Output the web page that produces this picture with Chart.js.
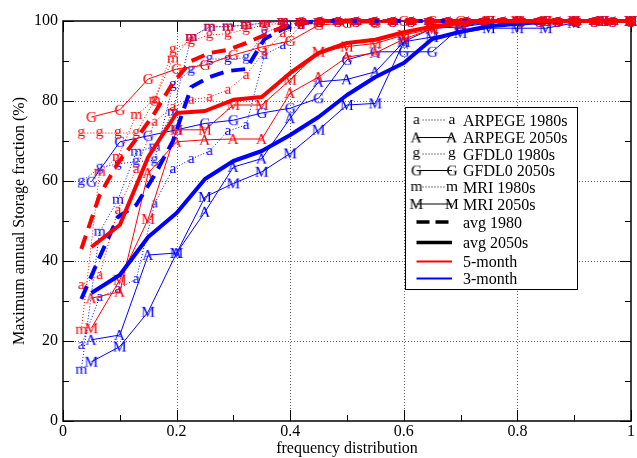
<!DOCTYPE html>
<html>
<head>
<meta charset="utf-8">
<script src="https://cdn.jsdelivr.net/npm/chart.js@4.4.1/dist/chart.umd.min.js"></script>
<style>
html,body{margin:0;padding:0;background:#fff;overflow:hidden}
canvas{display:block}
</style>
</head>
<body>
<canvas id="chart" width="637" height="458"></canvas>
<script>
// ---------- DATA ----------
// frequency positions: 1980s runs (31 years) and 2050s runs (20 years)
const xPast = [0.0323, 0.0645, 0.0968, 0.129, 0.1613, 0.1935, 0.2258, 0.2581, 0.2903, 0.3226, 0.3548, 0.3871, 0.4194, 0.4516, 0.4839, 0.5161, 0.5484, 0.5806, 0.6129, 0.6452, 0.6774, 0.7097, 0.7419, 0.7742, 0.8065, 0.8387, 0.871, 0.9032, 0.9355, 0.9677, 1];
const xFuture = [0.05, 0.1, 0.15, 0.2, 0.25, 0.3, 0.35, 0.4, 0.45, 0.5, 0.55, 0.6, 0.65, 0.7, 0.75, 0.8, 0.85, 0.9, 0.95, 1];

// 5-month (red)
const arpege1980_5 = [34, 36.5, 52.8, 63, 74.8, 78.5, 80.3, 81, 82.8, 86.5, 92.5, 97, 99, 99.5, 100, 100, 100, 100, 100, 100, 100, 100, 100, 100, 100, 100, 100, 100, 100, 100, 100];
const gfdl1980_5   = [72, 72, 72, 72, 80.3, 92.8, 95, 96.5, 96.8, 98, 99, 99.5, 100, 100, 100, 100, 100, 100, 100, 100, 100, 100, 100, 100, 100, 100, 100, 100, 100, 100, 100];
const mri1980_5    = [22.8, 62.3, 66, 76.5, 80.3, 90.6, 96, 98.6, 98.6, 99, 99.5, 100, 100, 100, 100, 100, 100, 100, 100, 100, 100, 100, 100, 100, 100, 100, 100, 100, 100, 100, 100];
const avg1980_5    = [43, 56.5, 64.5, 70.5, 77, 84.5, 90, 92, 92.8, 94.5, 96.5, 98.5, 99.5, 100, 100, 100, 100, 100, 100, 100, 100, 100, 100, 100, 100, 100, 100, 100, 100, 100, 100];
const arpege2050_5 = [30.7, 32.3, 62, 69.8, 70.3, 70.5, 70.5, 82, 86, 91, 92, 95.5, 98, 99.5, 100, 100, 100, 100, 100, 100];
const gfdl2050_5   = [76, 77.8, 85.5, 88, 89, 91.5, 93.5, 95, 99, 99.5, 99.5, 100, 100, 100, 100, 100, 100, 100, 100, 100];
const mri2050_5    = [23.2, 35.3, 50.5, 72.8, 72.8, 79, 79, 85.3, 92.3, 93.6, 94.4, 96.5, 98, 99, 100, 100, 100, 100, 100, 100];
const avg2050_5    = [43.5, 49, 66, 77, 77.5, 80.3, 81, 87, 92, 94.5, 95.3, 97.2, 98.6, 99.5, 100, 100, 100, 100, 100, 100];

// 3-month (blue)
const arpege1980_3 = [19, 31, 33, 35.5, 54.4, 63, 65.5, 67.5, 72.5, 74, 91.5, 94, 99, 99.5, 100, 100, 100, 100, 100, 100, 100, 100, 100, 100, 100, 100, 100, 100, 100, 100, 100];
const gfdl1980_3   = [59.8, 63.3, 64.3, 64.8, 65.2, 84, 87.8, 90.5, 90.5, 90.8, 97, 99, 99.5, 100, 100, 100, 100, 100, 100, 100, 100, 100, 100, 100, 100, 100, 100, 100, 100, 100, 100];
const mri1980_3    = [12.8, 47.3, 55.3, 67.3, 68.6, 77.3, 96, 98.5, 98.6, 99, 99.5, 100, 100, 100, 100, 100, 100, 100, 100, 100, 100, 100, 100, 100, 100, 100, 100, 100, 100, 100, 100];
const avg1980_3    = [30.5, 41, 51, 54, 61.5, 70, 83.5, 86, 87.5, 88, 95.5, 98, 99.5, 100, 100, 100, 100, 100, 100, 100, 100, 100, 100, 100, 100, 100, 100, 100, 100, 100, 100];
const arpege2050_3 = [20.3, 21.5, 41.5, 42, 52.3, 63.5, 65.6, 75.7, 84.8, 85.4, 87.3, 94.8, 98.2, 98.5, 99.5, 100, 100, 100, 100, 100];
const gfdl2050_3   = [59.8, 69.8, 71.3, 72.8, 74.4, 75.2, 77, 78.2, 80.7, 90.3, 92.3, 92.3, 92.3, 98.5, 100, 100, 100, 100, 100, 100];
const mri2050_3    = [14.8, 18.6, 27.3, 42, 56, 59.4, 62.3, 66.9, 72.8, 79, 79.4, 94.8, 96, 97, 98.2, 98.2, 98.2, 99.5, 100, 100];
const avg2050_3    = [32, 36.5, 46, 52, 60.5, 65, 67.5, 71.5, 76, 81.5, 86, 89.5, 95.5, 97.3, 98.7, 99.3, 99.8, 100, 100, 100];

// axes
const xTicks = [0, 0.2, 0.4, 0.6, 0.8, 1];
const xTickLabels = ['0', '0.2', '0.4', '0.6', '0.8', '1'];
const xMinor = [0.1, 0.3, 0.5, 0.7, 0.9];
const yTicks = [0, 20, 40, 60, 80, 100];
const yTickLabels = ['0', '20', '40', '60', '80', '100'];
const yMinor = [10, 30, 50, 70, 90];
const xTitle = 'frequency distribution';
const yTitle = 'Maximum annual Storage fraction (%)';
const legendLabels = ['ARPEGE 1980s', 'ARPEGE 2050s', 'GFDL0 1980s', 'GFDL0 2050s', 'MRI 1980s', 'MRI 2050s', 'avg 1980', 'avg 2050s', '5-month', '3-month'];
const legendLetters = ['a', 'A', 'g', 'G', 'm', 'M'];

// ---------- STYLE ----------
const RED = '#ff0000', BLUE = '#0000ff';
const FONT = '"Liberation Serif", "Times New Roman", serif';
Chart.defaults.font.family = FONT;
Chart.defaults.color = '#000';

function letterImg(ch, color, size) {
  const c = document.createElement('canvas');
  c.width = 22; c.height = 22;
  const g = c.getContext('2d');
  g.font = size + 'px ' + FONT;
  g.fillStyle = color;
  g.textBaseline = 'alphabetic';
  g.textAlign = 'left';
  const m = g.measureText(ch);
  const bw = m.actualBoundingBoxRight + m.actualBoundingBoxLeft;
  const x = c.width / 2 - bw / 2 + m.actualBoundingBoxLeft;
  const y = c.height / 2 + (m.actualBoundingBoxAscent - m.actualBoundingBoxDescent) / 2;
  g.fillText(ch, x, y);
  return c;
}

function pts(xs, ys) { return xs.map((x, i) => ({ x: x, y: ys[i] })); }

function markerSet(xs, ys, ch, color, dotted, ord) {
  return {
    data: pts(xs, ys), borderColor: color, borderWidth: 1,
    borderDash: dotted ? [1, 2] : [], pointStyle: letterImg(ch, color, 15.5),
    pointRadius: 5, pointHoverRadius: 5, fill: false, tension: 0, clip: 12, order: ord
  };
}
function avgSet(xs, ys, color, dashed, ord) {
  return {
    data: pts(xs, ys), borderColor: color, borderWidth: 4,
    borderDash: dashed ? [14, 8] : [], pointRadius: 0, fill: false, tension: 0,
    clip: 6, order: ord, borderCapStyle: 'butt', borderJoinStyle: 'round'
  };
}

const datasets = [
  avgSet(xFuture, avg2050_5, RED, false, 0),
  avgSet(xFuture, avg2050_3, BLUE, false, 1),
  avgSet(xPast, avg1980_5, RED, true, 2),
  avgSet(xPast, avg1980_3, BLUE, true, 3),
  markerSet(xPast, arpege1980_5, 'a', RED, true, 5),
  markerSet(xFuture, arpege2050_5, 'A', RED, false, 5),
  markerSet(xPast, gfdl1980_5, 'g', RED, true, 5),
  markerSet(xFuture, gfdl2050_5, 'G', RED, false, 5),
  markerSet(xPast, mri1980_5, 'm', RED, true, 5),
  markerSet(xFuture, mri2050_5, 'M', RED, false, 5),
  markerSet(xPast, arpege1980_3, 'a', BLUE, true, 6),
  markerSet(xFuture, arpege2050_3, 'A', BLUE, false, 6),
  markerSet(xPast, gfdl1980_3, 'g', BLUE, true, 6),
  markerSet(xFuture, gfdl2050_3, 'G', BLUE, false, 6),
  markerSet(xPast, mri1980_3, 'm', BLUE, true, 6),
  markerSet(xFuture, mri2050_3, 'M', BLUE, false, 6)
];

// frame, dotted grid and inward ticks
const framePlugin = {
  id: 'frame',
  beforeDatasetsDraw(chart) {
    const ctx = chart.ctx, a = chart.chartArea, xs = chart.scales.x, ys = chart.scales.y;
    ctx.save();
    ctx.strokeStyle = '#666'; ctx.lineWidth = 1; ctx.setLineDash([1, 2]);
    xTicks.forEach(v => {
      if (v <= 0 || v >= 1) return;
      const p = Math.round(xs.getPixelForValue(v)) + 0.5;
      ctx.beginPath(); ctx.moveTo(p, a.top); ctx.lineTo(p, a.bottom); ctx.stroke();
    });
    yTicks.forEach(v => {
      if (v <= 0 || v >= 100) return;
      const p = Math.round(ys.getPixelForValue(v)) + 0.5;
      ctx.beginPath(); ctx.moveTo(a.left, p); ctx.lineTo(a.right, p); ctx.stroke();
    });
    ctx.setLineDash([]);
    ctx.strokeStyle = '#000'; ctx.lineWidth = 1;
    const tx = (v, len) => {
      const p = Math.round(xs.getPixelForValue(v)) + 0.5;
      ctx.beginPath(); ctx.moveTo(p, a.bottom); ctx.lineTo(p, a.bottom - len);
      ctx.moveTo(p, a.top); ctx.lineTo(p, a.top + len); ctx.stroke();
    };
    const ty = (v, len) => {
      const p = Math.round(ys.getPixelForValue(v)) + 0.5;
      ctx.beginPath(); ctx.moveTo(a.left, p); ctx.lineTo(a.left + len, p);
      ctx.moveTo(a.right, p); ctx.lineTo(a.right - len, p); ctx.stroke();
    };
    xTicks.forEach(v => tx(v, 11)); xMinor.forEach(v => tx(v, 6));
    yTicks.forEach(v => ty(v, 11)); yMinor.forEach(v => ty(v, 6));
    ctx.lineWidth = 1.5;
    ctx.strokeRect(a.left, a.top, a.right - a.left, a.bottom - a.top);
    ctx.restore();
  }
};

// legend box
const legendPlugin = {
  id: 'boxLegend',
  afterDraw(chart) {
    const ctx = chart.ctx;
    const L = 405.5, T = 107.5, R = 577.5, B = 289.5;
    const rowsY = [120, 137.5, 154, 170.5, 187, 204, 222, 242.5, 261.5, 278.5];
    const x1 = 416.5, x2 = 452, tx = 463;
    ctx.save();
    ctx.fillStyle = '#fff'; ctx.fillRect(L, T, R - L, B - T);
    ctx.strokeStyle = '#000'; ctx.lineWidth = 1; ctx.strokeRect(L, T, R - L, B - T);
    rowsY.forEach((y, i) => {
      if (i < 6) {
        ctx.strokeStyle = '#000'; ctx.lineWidth = 1;
        ctx.setLineDash(i % 2 === 0 ? [1, 2] : []);
        ctx.beginPath(); ctx.moveTo(x1 + (i % 2 === 0 ? 6 : 0), y); ctx.lineTo(x2 - (i % 2 === 0 ? 6 : 0), y); ctx.stroke();
        ctx.setLineDash([]);
        const img = letterImg(legendLetters[i], '#000', 15.5);
        ctx.drawImage(img, x1 - img.width / 2, y - img.height / 2);
        ctx.drawImage(img, x2 - img.width / 2, y - img.height / 2);
      } else if (i === 6) {
        ctx.strokeStyle = '#000'; ctx.lineWidth = 3.5; ctx.setLineDash([13, 6]);
        ctx.beginPath(); ctx.moveTo(x1, y); ctx.lineTo(x2, y); ctx.stroke(); ctx.setLineDash([]);
      } else {
        ctx.strokeStyle = i === 7 ? '#000' : (i === 8 ? RED : BLUE);
        ctx.lineWidth = i === 7 ? 3.5 : 2;
        ctx.beginPath(); ctx.moveTo(x1, y); ctx.lineTo(x2, y); ctx.stroke();
      }
      ctx.fillStyle = '#000'; ctx.font = '16px ' + FONT;
      ctx.textBaseline = 'alphabetic'; ctx.textAlign = 'left';
      ctx.fillText(legendLabels[i], tx, y + 5.5);
    });
    ctx.restore();
  }
};

new Chart(document.getElementById('chart'), {
  type: 'line',
  data: { datasets: datasets },
  plugins: [framePlugin, legendPlugin],
  options: {
    responsive: false, animation: false, devicePixelRatio: 1,
    layout: { padding: { top: 21, right: 3, left: 0, bottom: 0 } },
    plugins: { legend: { display: false }, tooltip: { enabled: false } },
    scales: {
      x: {
        type: 'linear', min: 0, max: 1,
        afterFit: s => { s.height = 37; },
        afterBuildTicks: s => { s.ticks = xTicks.map(v => ({ value: v })); },
        grid: { display: false, drawTicks: false }, border: { display: false },
        ticks: { padding: 1, maxRotation: 0, autoSkip: false, color: '#000', font: { size: 16, family: FONT },
                 callback: (v, i) => xTickLabels[i] },
        title: { display: true, text: xTitle, color: '#000', font: { size: 16, family: FONT }, padding: { top: 0, bottom: 0 } }
      },
      y: {
        min: 0, max: 100,
        afterFit: s => { s.width = 63; },
        afterBuildTicks: s => { s.ticks = yTicks.map(v => ({ value: v })); },
        grid: { display: false, drawTicks: false }, border: { display: false },
        ticks: { padding: 5, autoSkip: false, color: '#000', font: { size: 16, family: FONT },
                 callback: (v, i) => yTickLabels[i] },
        title: { display: true, text: yTitle, color: '#000', font: { size: 16, family: FONT }, padding: { top: 10, bottom: 0 } }
      }
    }
  }
});
</script>
</body>
</html>
